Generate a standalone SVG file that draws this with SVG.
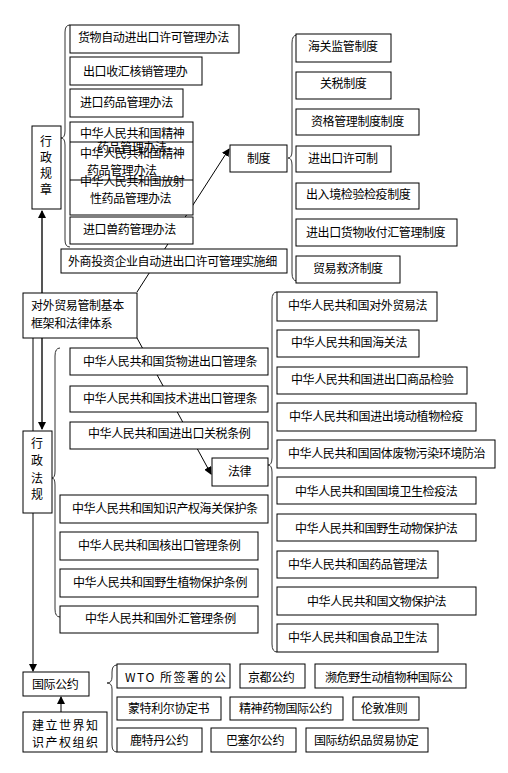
<svg xmlns="http://www.w3.org/2000/svg" width="508" height="773" viewBox="0 0 508 773">
<style>
rect.b{fill:#fff;stroke:#000;stroke-width:1}
text{font-family:"Noto Sans CJK SC","Noto Sans CJK TC",sans-serif;font-size:12px;letter-spacing:-0.4px;fill:#000}
.br{fill:none;stroke:#333;stroke-width:1}
.c{fill:none;stroke:#000;stroke-width:1}
.g{fill:none;stroke:#555;stroke-width:2}
</style>
<defs>
<marker id="ah" markerWidth="8" markerHeight="8" refX="7" refY="4" orient="auto" markerUnits="userSpaceOnUse">
<path d="M0,0 L8,4 L0,8 z" fill="#000"/>
</marker>
</defs>
<rect width="508" height="773" fill="#fff"/>
<g id="connectors">
<line class="g" x1="42" y1="293" x2="42" y2="211" marker-end="url(#ah)"/>
<line class="g" x1="42" y1="338" x2="42" y2="429" marker-end="url(#ah)"/>
<line class="c" x1="33" y1="338" x2="33" y2="671" marker-end="url(#ah)"/>
<line class="c" x1="61" y1="712" x2="61" y2="697" marker-end="url(#ah)"/>
<line class="c" x1="137" y1="292" x2="229" y2="149" marker-end="url(#ah)"/>
<line class="c" x1="137" y1="338" x2="211" y2="474" marker-end="url(#ah)"/>
<path class="br" d="M70,25 Q65,25 65,32 L65,131 Q65,138 61,138 Q65,138 65,145 L65,240 Q65,247 70,247"/>
<path class="br" d="M297,35 Q292,35 292,43 L292,151 Q292,158 288,158 Q292,158 292,165 L292,273 Q292,281 297,281"/>
<path class="br" d="M277,292 Q272,292 272,300 L272,458 Q272,465 268,465 Q272,465 272,472 L272,644 Q272,652 277,652"/>
<path class="br" d="M60,348 Q55,348 55,356 L55,471 Q55,478 52,478 Q55,478 55,485 L55,609 Q55,617 60,617"/>
<path class="br" d="M117,665 Q112,665 112,672 L112,677 Q112,683 107,683 Q112,683 112,689 L112,745 Q112,752 117,752"/>
</g>
<g id="n_xzgz"><rect class="b" x="32" y="126" width="29" height="83"/>
<text x="40" y="145.5">行</text><text x="40" y="161.5">政</text><text x="40" y="177.5">规</text><text x="40" y="194">章</text></g>
<g id="n_r1"><rect class="b" x="70" y="25" width="169" height="28"/><text x="78" y="41.5">货物自动进出口许可管理办法</text></g>
<g id="n_r2"><rect class="b" x="70" y="57" width="132" height="28"/><text x="83" y="75.5">出口收汇核销管理办</text></g>
<g id="n_r3"><rect class="b" x="70" y="89" width="113" height="28"/><text x="80" y="106.5">进口药品管理办法</text></g>
<g id="n_r4"><rect class="b" x="70" y="122" width="123" height="93"/>
<line class="c" x1="70" y1="142" x2="193" y2="142"/><line class="c" x1="70" y1="180" x2="193" y2="180"/>
<text x="80" y="137.5">中华人民共和国精神</text><text x="97" y="152">药品管理办法</text>
<text x="80" y="157.5">中华人民共和国精神</text><text x="87" y="174.5">药品管理办法</text>
<text x="80" y="185.5">中华人民共和国放射</text><text x="90" y="202.5">性药品管理办法</text></g>
<g id="n_r5"><rect class="b" x="70" y="217" width="123" height="27"/><text x="83" y="233.5">进口兽药管理办法</text></g>
<g id="n_r6"><rect class="b" x="61" y="249" width="226" height="24"/><text x="68" y="266">外商投资企业自动进出口许可管理实施细</text></g>
<g id="n_zd"><rect class="b" x="230" y="145" width="57" height="27"/><text x="247" y="162.5">制度</text></g>
<g id="n_z1"><rect class="b" x="296" y="34" width="95" height="28"/><text x="308" y="50.5">海关监管制度</text></g>
<g id="n_z2"><rect class="b" x="296" y="72" width="95" height="27"/><text x="320" y="87.5">关税制度</text></g>
<g id="n_z3"><rect class="b" x="296" y="109" width="123" height="26"/><text x="311" y="125.5">资格管理制度制度</text></g>
<g id="n_z4"><rect class="b" x="296" y="146" width="95" height="26"/><text x="308" y="162.5">进出口许可制</text></g>
<g id="n_z5"><rect class="b" x="296" y="183" width="123" height="26"/><text x="306" y="198.5">出入境检验检疫制度</text></g>
<g id="n_z6"><rect class="b" x="296" y="219" width="161" height="27"/><text x="306" y="236.5">进出口货物收付汇管理制度</text></g>
<g id="n_z7"><rect class="b" x="296" y="256" width="104" height="27"/><text x="313" y="272.5">贸易救济制度</text></g>
<g id="n_root"><rect class="b" x="23" y="293" width="114" height="45"/><text x="31" y="309.5">对外贸易管制基本</text><text x="31" y="327.5">框架和法律体系</text></g>
<g id="n_xzfg"><rect class="b" x="23" y="431" width="29" height="82"/>
<text x="31" y="447.5">行</text><text x="31" y="464.5">政</text><text x="31" y="482.5">法</text><text x="31" y="498.5">规</text></g>
<g id="n_f1"><rect class="b" x="70" y="348" width="198" height="27"/><text x="83" y="365.5">中华人民共和国货物进出口管理条</text></g>
<g id="n_f2"><rect class="b" x="70" y="386" width="198" height="26"/><text x="83" y="402.5">中华人民共和国技术进出口管理条</text></g>
<g id="n_f3"><rect class="b" x="70" y="422" width="198" height="27"/><text x="88" y="437.5">中华人民共和国进出口关税条例</text></g>
<g id="n_f4"><rect class="b" x="60" y="495" width="208" height="28"/><text x="72" y="512.5">中华人民共和国知识产权海关保护条</text></g>
<g id="n_f5"><rect class="b" x="60" y="532" width="198" height="28"/><text x="78" y="549.5">中华人民共和国核出口管理条例</text></g>
<g id="n_f6"><rect class="b" x="60" y="569" width="198" height="28"/><text x="73" y="586.5">中华人民共和国野生植物保护条例</text></g>
<g id="n_f7"><rect class="b" x="60" y="606" width="198" height="27"/><text x="85" y="622.5">中华人民共和国外汇管理条例</text></g>
<g id="n_fl"><rect class="b" x="212" y="458" width="56" height="28"/><text x="228" y="475.5">法律</text></g>
<g id="n_l1"><rect class="b" x="277" y="292" width="160" height="29"/><text x="288" y="309.5">中华人民共和国对外贸易法</text></g>
<g id="n_l2"><rect class="b" x="277" y="330" width="142" height="27"/><text x="291" y="346.5">中华人民共和国海关法</text></g>
<g id="n_l3"><rect class="b" x="277" y="367" width="190" height="27"/><text x="291" y="383.5">中华人民共和国进出口商品检验</text></g>
<g id="n_l4"><rect class="b" x="277" y="403" width="199" height="28"/><text x="289" y="420.5">中华人民共和国进出境动植物检疫</text></g>
<g id="n_l5"><rect class="b" x="277" y="440" width="218" height="28"/><text x="288" y="457.5">中华人民共和国固体废物污染环境防治</text></g>
<g id="n_l6"><rect class="b" x="277" y="477" width="199" height="27"/><text x="295" y="495.5">中华人民共和国国境卫生检疫法</text></g>
<g id="n_l7"><rect class="b" x="277" y="514" width="199" height="27"/><text x="295" y="532.5">中华人民共和国野生动物保护法</text></g>
<g id="n_l8"><rect class="b" x="277" y="551" width="161" height="27"/><text x="288" y="568.5">中华人民共和国药品管理法</text></g>
<g id="n_l9"><rect class="b" x="277" y="587" width="199" height="28"/><text x="307" y="605.5">中华人民共和国文物保护法</text></g>
<g id="n_l10"><rect class="b" x="277" y="624" width="161" height="28"/><text x="288" y="641.5">中华人民共和国食品卫生法</text></g>
<g id="n_gjgy"><rect class="b" x="23" y="672" width="66" height="24"/><text x="32" y="688.5">国际公约</text></g>
<g id="n_wipo"><rect class="b" x="23" y="712" width="84" height="40"/><text x="32" y="729.5" style="letter-spacing:1.5px">建立世界知</text><text x="32" y="746.5" style="letter-spacing:1.5px">识产权组织</text></g>
<g id="n_c1"><rect class="b" x="117" y="664" width="113" height="24"/><text x="125" y="681.5" style="letter-spacing:1.5px">WTO 所签署的公</text></g>
<g id="n_c2"><rect class="b" x="240" y="664" width="65" height="24"/><text x="248" y="681.5">京都公约</text></g>
<g id="n_c3"><rect class="b" x="315" y="664" width="151" height="24"/><text x="325" y="681.5">濒危野生动植物种国际公</text></g>
<g id="n_c4"><rect class="b" x="117" y="697" width="104" height="23"/><text x="128" y="712.5">蒙特利尔协定书</text></g>
<g id="n_c5"><rect class="b" x="230" y="697" width="113" height="23"/><text x="239" y="712.5">精神药物国际公约</text></g>
<g id="n_c6"><rect class="b" x="353" y="697" width="66" height="23"/><text x="361" y="712.5">伦敦准则</text></g>
<g id="n_c7"><rect class="b" x="117" y="728" width="85" height="24"/><text x="130" y="744.5">鹿特丹公约</text></g>
<g id="n_c8"><rect class="b" x="211" y="728" width="85" height="24"/><text x="226" y="744.5">巴塞尔公约</text></g>
<g id="n_c9"><rect class="b" x="306" y="728" width="122" height="24"/><text x="314" y="744.5">国际纺织品贸易协定</text></g>
</svg>
